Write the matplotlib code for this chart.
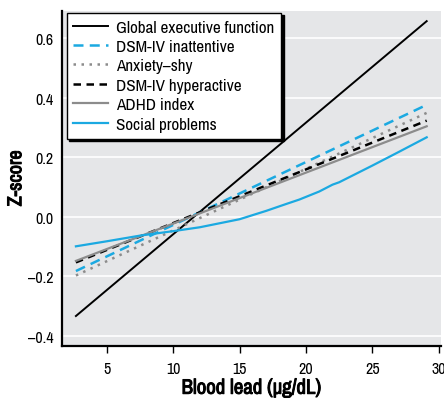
import numpy as np
import matplotlib
matplotlib.use('Agg')
import matplotlib.pyplot as plt
from matplotlib import font_manager
import matplotlib.patheffects as pe

# look for a narrow face, the original uses a condensed grotesque
fonts = font_manager.fontManager.ttflist
names = sorted(set(f.name for f in fonts))
narrow = [n for n in names if 'Narrow' in n or 'Condensed' in n]
family = narrow[:1] + ['Liberation Sans', 'DejaVu Sans']
plt.rcParams['font.family'] = family

# does the narrow face come with a bold cut? if not fake it with a stroke
has_bold = any(f.name == family[0] and (f.weight == 'bold' or (isinstance(f.weight, int) and f.weight >= 600))
               for f in fonts)
bold_fx = [] if has_bold else [pe.withStroke(linewidth=0.7, foreground='black')]

# ---------------- data ----------------
lead_ends = [2.66, 29.1]

global_exec  = [-0.333, 0.657]
dsm_inatt    = [-0.182, 0.376]
anxiety_shy  = [-0.197, 0.349]
dsm_hyper    = [-0.153, 0.323]
adhd_index   = [-0.148, 0.304]

social_x = [2.66, 5, 7.5, 10, 12, 15, 17, 18.5, 19.5, 21, 22, 22.5, 25, 27, 29.1]
social_y = [-0.099, -0.082, -0.063, -0.048, -0.035, -0.008, 0.02, 0.043, 0.058,
            0.085, 0.108, 0.116, 0.172, 0.218, 0.267]

xticks = [5, 10, 15, 20, 25, 30]
yticks = [-0.4, -0.2, 0.0, 0.2, 0.4, 0.6]

blue = '#1ba9e1'
gray = '#8c8c8c'

fig = plt.figure(figsize=(4.44, 4.02), dpi=100)
ax = fig.add_axes([0.1396, 0.1376, 0.8534, 0.8325])
ax.set_facecolor('#e5e6e8')

ax.plot(lead_ends, global_exec, color='black', lw=1.4, label='Global executive function')
ax.plot(lead_ends, dsm_inatt, color=blue, lw=1.8, dashes=(4, 2.5), label='DSM-IV inattentive')
ax.plot(lead_ends, anxiety_shy, color=gray, lw=1.8, dashes=(1, 2.2), label='Anxiety\u2013shy')
ax.plot(lead_ends, dsm_hyper, color='black', lw=1.8, dashes=(3, 2.2), label='DSM-IV hyperactive')
ax.plot(lead_ends, adhd_index, color=gray, lw=1.6, label='ADHD index')
ax.plot(social_x, social_y, color=blue, lw=1.6, label='Social problems')

ax.set_xlim(1.61, 30.17)
ax.set_ylim(-0.4326, 0.691)
ax.set_xticks(xticks)
ax.set_xticklabels([str(t) for t in xticks])
ax.set_yticks(yticks)
ax.set_yticklabels(['\u20130.4', '\u20130.2', '0.0', '0.2', '0.4', '0.6'])
ax.grid(True, axis='y', color='white', lw=1.2)
ax.set_axisbelow(True)

for s in ['top', 'right']:
    ax.spines[s].set_visible(False)
for s in ['left', 'bottom']:
    ax.spines[s].set_linewidth(1.6)
    ax.spines[s].set_color('black')

ax.tick_params(axis='x', length=5, width=1, labelsize=11.5, pad=6)
ax.tick_params(axis='y', length=0, labelsize=11.5, pad=6)

ax.set_xlabel('Blood lead (\u00b5g/dL)', fontsize=15, fontweight='bold', labelpad=2,
              path_effects=bold_fx)
ax.set_ylabel('Z-score', fontsize=14.5, fontweight='bold', labelpad=2,
              path_effects=bold_fx)

leg = ax.legend(loc='upper left', bbox_to_anchor=(0.012, 0.995), fontsize=12.3,
                frameon=True, fancybox=False, handlelength=2.0, handletextpad=0.5,
                labelspacing=0.26, borderpad=0.4, borderaxespad=0,
                shadow={'color': 'black', 'alpha': 1})
leg.get_frame().set_edgecolor('black')
leg.get_frame().set_linewidth(1)
leg.get_frame().set_facecolor('white')
leg.get_frame().set_alpha(1)

fig.savefig('out.png', dpi=100)
